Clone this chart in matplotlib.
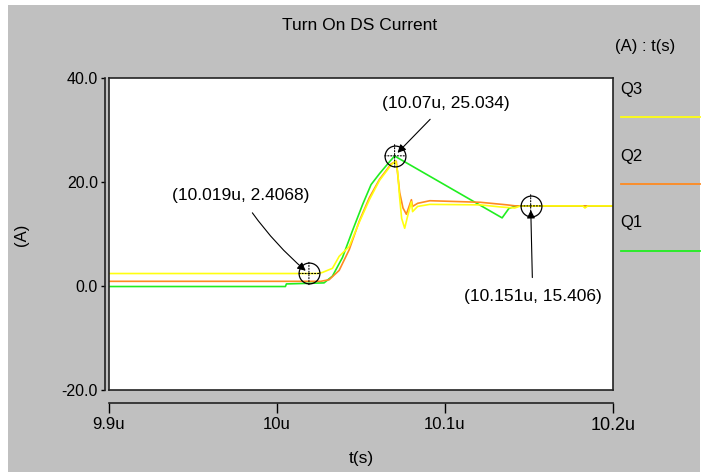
import matplotlib
matplotlib.use('Agg')
import matplotlib.pyplot as plt
from matplotlib.patches import Rectangle
from matplotlib.lines import Line2D

plt.rcParams['font.family'] = ['Liberation Sans', 'DejaVu Sans']

W, H = 703, 472

# time in microseconds, current in A
q1_t = [9.9, 10.005, 10.0056, 10.028, 10.033, 10.039, 10.045, 10.051, 10.056,
        10.061, 10.067, 10.070, 10.134, 10.138, 10.142, 10.2]
q1_v = [-0.1, -0.1, 0.4, 0.6, 1.9, 5.5, 10.7, 15.7, 19.5,
        21.6, 23.9, 25.0, 13.1, 14.9, 15.4, 15.4]

q2_t = [9.9, 10.026, 10.031, 10.037, 10.043, 10.049, 10.055, 10.061, 10.068,
        10.071, 10.073, 10.075, 10.077, 10.080, 10.0807, 10.0837, 10.091,
        10.121, 10.137, 10.142, 10.2]
q2_v = [0.9, 0.9, 1.2, 3.0, 7.0, 12.5, 17.0, 20.5, 23.5,
        24.0, 18.0, 15.0, 13.8, 16.6, 15.3, 15.9, 16.4,
        16.1, 15.6, 15.4, 15.4]

q3_t = [9.9, 10.024, 10.027, 10.033, 10.037, 10.043, 10.049, 10.055, 10.061,
        10.068, 10.0706, 10.0718, 10.073, 10.0742, 10.076, 10.0778, 10.080,
        10.0807, 10.0837, 10.091, 10.121, 10.133, 10.1415, 10.145, 10.182,
        10.1833, 10.185, 10.2]
q3_v = [2.4, 2.4, 2.6, 3.4, 5.7, 7.6, 12.3, 16.6, 20.3,
        23.3, 24.0, 22.0, 17.0, 13.0, 11.1, 13.5, 16.2,
        14.3, 15.3, 15.7, 15.6, 15.2, 15.0, 15.4, 15.4,
        15.0, 15.4, 15.4]

series = [('Q3', q3_t, q3_v, '#ffff10'),
          ('Q2', q2_t, q2_v, '#ff8a20'),
          ('Q1', q1_t, q1_v, '#20ee20')]

marks = [(10.019, 2.4068), (10.07, 25.034), (10.151, 15.406)]
mark_labels = ['(10.019u, 2.4068)', '(10.07u, 25.034)', '(10.151u, 15.406)']
mark_text_off = [(-49, 56), (37, 38), (1.5, -65)]

x_ticks = [9.9, 10.0, 10.1, 10.2]
x_labels = ['9.9u', '10u', '10.1u', '10.2u']
y_ticks = [-20, 0, 20, 40]
y_labels = ['-20.0', '0.0', '20.0', '40.0']

fig = plt.figure(figsize=(W / 100, H / 100), dpi=100, facecolor='white')
fig.patches.append(Rectangle((8 / W, 0), 692 / W, (H - 5) / H,
                             transform=fig.transFigure, facecolor='#c0c0c0',
                             edgecolor='none', zorder=-10))

rect = [109 / W, (H - 390) / H, (613 - 109) / W, (390 - 78) / H]
ax = fig.add_axes(rect)
ax.set_facecolor('white')
for s in ax.spines.values():
    s.set_color('#222222')
    s.set_linewidth(1.2)
ax.tick_params(left=False, bottom=False, labelleft=False, labelbottom=False)
ax.set_xlim(9.9, 10.2)
ax.set_ylim(-20, 40)

for name, t, v, c in series[::-1]:
    ax.plot(t, v, color=c, lw=1.2)

# separate axis lines, offset from the box
axs = fig.add_axes(rect, frameon=True)
axs.patch.set_visible(False)
axs.spines['top'].set_visible(False)
axs.spines['right'].set_visible(False)
axs.spines['left'].set_position(('outward', 3))
axs.spines['bottom'].set_position(('outward', 9.5))
for k in ('left', 'bottom'):
    axs.spines[k].set_color('#222222')
    axs.spines[k].set_linewidth(1.2)
axs.set_xlim(9.9, 10.2)
axs.set_ylim(-20, 40)
axs.set_xticks(x_ticks)
axs.set_xticklabels(x_labels)
axs.set_yticks(y_ticks)
axs.set_yticklabels(y_labels)
axs.tick_params(axis='x', direction='out', length=7, width=1, pad=3, labelsize=12)
axs.tick_params(axis='y', direction='out', length=3, width=1, pad=2, labelsize=11.5)
axs.get_xticklabels()[-1].set_fontsize(13)

# markers with crosshair and annotations
for (t, v), off, lbl in zip(marks, mark_text_off, mark_labels):
    ax.plot([t], [v], marker='o', ms=15, mfc='none', mec='black', mew=0.9, zorder=5)
    for dx, dy in [(-7, 0), (7, 0), (0, -8), (0, 8)]:
        ax.annotate('', xy=(t, v), xytext=(dx, dy), textcoords='offset points',
                    arrowprops=dict(arrowstyle='-', color='black', lw=0.8,
                                    linestyle=':', shrinkA=0, shrinkB=0))
    cs = 'arc3,rad=0.08' if lbl.startswith('(10.019') else 'arc3'
    ax.annotate(lbl, xy=(t, v), xytext=off, textcoords='offset points',
                ha='center', va='center', fontsize=12.5,
                arrowprops=dict(arrowstyle='-|>', color='black', lw=0.8,
                                mutation_scale=12, shrinkA=6, shrinkB=3,
                                connectionstyle=cs))

fig.text(360 / W, 1 - 25 / H, 'Turn On DS Current', ha='center', va='center', fontsize=12.5)
fig.text(645 / W, 1 - 47 / H, '(A) : t(s)', ha='center', va='center', fontsize=12)
fig.text(22 / W, 1 - 235 / H, '(A)', ha='center', va='center', rotation=90, fontsize=12)
fig.text(361 / W, 1 - 458 / H, 't(s)', ha='center', va='center', fontsize=12.5)

# legend on the right
for i, (name, t, v, c) in enumerate(series):
    ty = 90 + i * 66
    ly = 117 + i * 67
    fig.text(620 / W, 1 - ty / H, name, ha='left', va='center', fontsize=12)
    fig.add_artist(Line2D([621 / W, 700 / W], [1 - ly / H, 1 - ly / H],
                          transform=fig.transFigure, color=c, lw=1.3))

fig.savefig('out.png', dpi=100, facecolor=fig.get_facecolor())
